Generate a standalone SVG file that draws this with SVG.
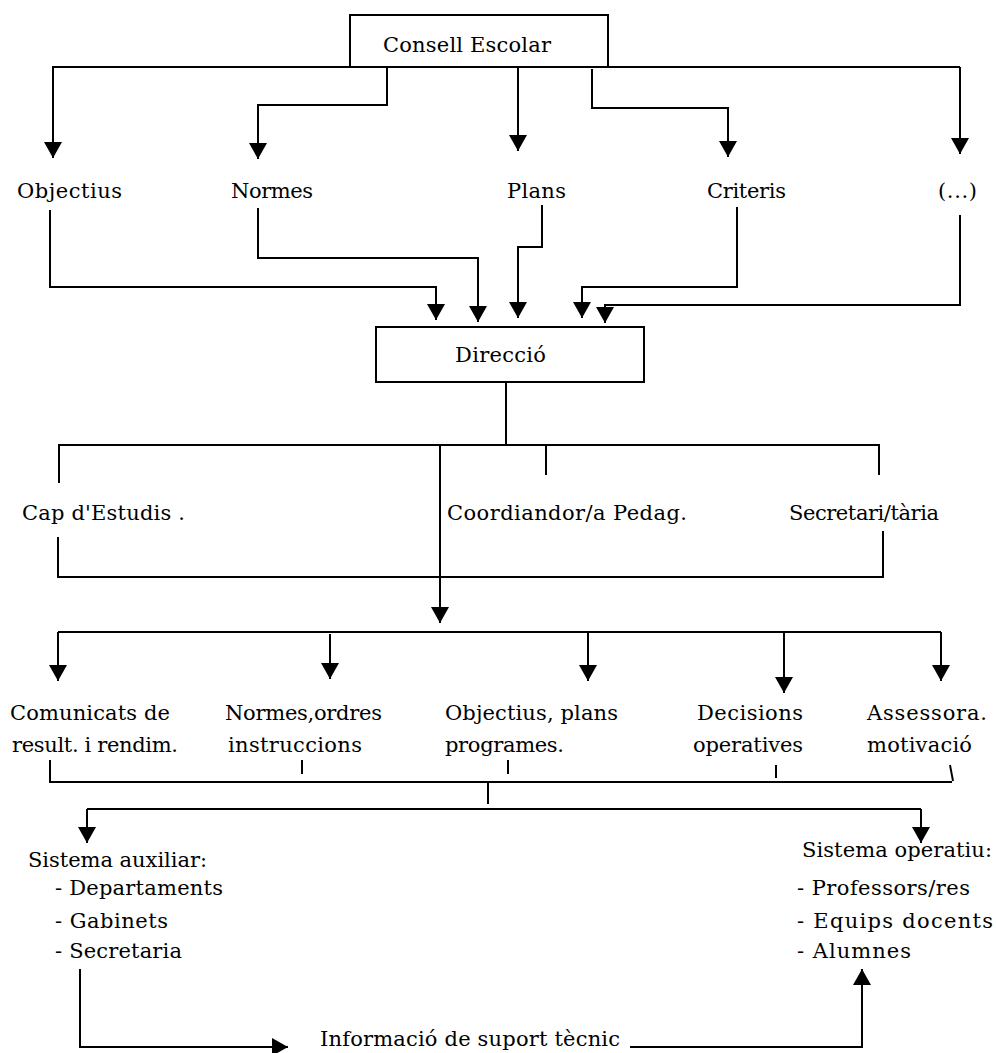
<svg xmlns="http://www.w3.org/2000/svg" width="996" height="1053" viewBox="0 0 996 1053">
<style>
.t{font-family:'DejaVu Serif','Liberation Serif',serif;font-size:21px;fill:#000}
.box{fill:#fff;stroke:#000;stroke-width:2}
.c{fill:none;stroke:#000;stroke-width:2}
.a{marker-end:url(#arr)}
</style>
<defs>
<marker id="arr" viewBox="0 0 16 18" refX="16" refY="9" markerWidth="16" markerHeight="18" markerUnits="userSpaceOnUse" orient="auto">
<path d="M0,0 L16,9 L0,18 Z" fill="#000"/>
</marker>
</defs>
<rect width="996" height="1053" fill="#fff"/>
<g id="connectors">
<path class="c" d="M52,67 H960"/>
<path class="c a" d="M53,67 V158"/>
<path class="c a" d="M387,67 V105 H258 V159"/>
<path class="c a" d="M518,67 V151"/>
<path class="c a" d="M592,69 V108 H728 V157"/>
<path class="c a" d="M960,67 V154"/>
<path class="c a" d="M50,210 V287 H436 V320"/>
<path class="c a" d="M258,208 V258 H478 V322"/>
<path class="c a" d="M542,205 V247 H518 V318"/>
<path class="c a" d="M737,207 V287 H582 V318"/>
<path class="c a" d="M960,215 V305 H605 V323"/>
<path class="c" d="M506,382 V445"/>
<path class="c" d="M59,483 V445 H880"/>
<path class="c" d="M546,445 V475"/>
<path class="c" d="M879,445 V475"/>
<path class="c a" d="M440,445 V623"/>
<path class="c" d="M58,537 V577 H883 V531"/>
<path class="c" d="M58,632 H941"/>
<path class="c a" d="M58,632 V681"/>
<path class="c a" d="M330,634 V679"/>
<path class="c a" d="M588,632 V681"/>
<path class="c a" d="M784,632 V693"/>
<path class="c a" d="M941,632 V681"/>
<path class="c" d="M50,760 V782 H952"/>
<path class="c" d="M302,760 V774"/>
<path class="c" d="M508,760 V774"/>
<path class="c" d="M776,765 V778"/>
<path class="c" d="M950,765 L953,781"/>
<path class="c" d="M488,782 V804"/>
<path class="c" d="M87,809 H921"/>
<path class="c a" d="M87,809 V843"/>
<path class="c a" d="M921,809 V843"/>
<path class="c a" d="M80,969 V1047 H288"/>
<path class="c a" d="M630,1047 H862 V969"/>
</g>
<g id="consell-escolar">
<rect class="box" x="350" y="15" width="258" height="52"/>
<text class="t" x="383" y="52" textLength="168" lengthAdjust="spacing">Consell Escolar</text>
</g>
<g id="objectius"><text class="t" x="17" y="198" textLength="105" lengthAdjust="spacing">Objectius</text></g>
<g id="normes"><text class="t" x="231" y="198" textLength="82" lengthAdjust="spacing">Normes</text></g>
<g id="plans"><text class="t" x="507" y="198" textLength="59" lengthAdjust="spacing">Plans</text></g>
<g id="criteris"><text class="t" x="707" y="198" textLength="79" lengthAdjust="spacing">Criteris</text></g>
<g id="etc"><text class="t" x="938" y="198" textLength="39" lengthAdjust="spacing">(...)</text></g>
<g id="direccio">
<rect class="box" x="376" y="327" width="268" height="55"/>
<text class="t" x="455" y="362" textLength="91" lengthAdjust="spacing">Direcció</text>
</g>
<g id="cap-estudis"><text class="t" x="22" y="520" textLength="163" lengthAdjust="spacing">Cap d'Estudis .</text></g>
<g id="coordinador"><text class="t" x="447" y="520" textLength="240" lengthAdjust="spacing">Coordiandor/a Pedag.</text></g>
<g id="secretari"><text class="t" x="789" y="520" textLength="150" lengthAdjust="spacing">Secretari/tària</text></g>
<g id="comunicats">
<text class="t" x="10" y="720" textLength="160" lengthAdjust="spacing">Comunicats de</text>
<text class="t" x="12" y="752" textLength="166" lengthAdjust="spacing">result. i rendim.</text>
</g>
<g id="normes-ordres">
<text class="t" x="225" y="720" textLength="157" lengthAdjust="spacing">Normes,ordres</text>
<text class="t" x="228" y="752" textLength="134" lengthAdjust="spacing">instruccions</text>
</g>
<g id="objectius-plans">
<text class="t" x="445" y="720" textLength="173" lengthAdjust="spacing">Objectius, plans</text>
<text class="t" x="445" y="752" textLength="119" lengthAdjust="spacing">programes.</text>
</g>
<g id="decisions">
<text class="t" x="697" y="720" textLength="106" lengthAdjust="spacing">Decisions</text>
<text class="t" x="693" y="752" textLength="110" lengthAdjust="spacing">operatives</text>
</g>
<g id="assessora">
<text class="t" x="867" y="720" textLength="120" lengthAdjust="spacing">Assessora.</text>
<text class="t" x="867" y="752" textLength="105" lengthAdjust="spacing">motivació</text>
</g>
<g id="sistema-auxiliar">
<text class="t" x="28" y="867" textLength="179" lengthAdjust="spacing">Sistema auxiliar:</text>
<text class="t" x="55" y="895" textLength="168" lengthAdjust="spacing">- Departaments</text>
<text class="t" x="55" y="928" textLength="113" lengthAdjust="spacing">- Gabinets</text>
<text class="t" x="55" y="958" textLength="127" lengthAdjust="spacing">- Secretaria</text>
</g>
<g id="sistema-operatiu">
<text class="t" x="802" y="857" textLength="190" lengthAdjust="spacing">Sistema operatiu:</text>
<text class="t" x="797" y="895" textLength="173" lengthAdjust="spacing">- Professors/res</text>
<text class="t" x="797" y="928" textLength="196" lengthAdjust="spacing">- Equips docents</text>
<text class="t" x="797" y="958" textLength="114" lengthAdjust="spacing">- Alumnes</text>
</g>
<g id="informacio"><text class="t" x="320" y="1046" textLength="300" lengthAdjust="spacing">Informació de suport tècnic</text></g>
</svg>
